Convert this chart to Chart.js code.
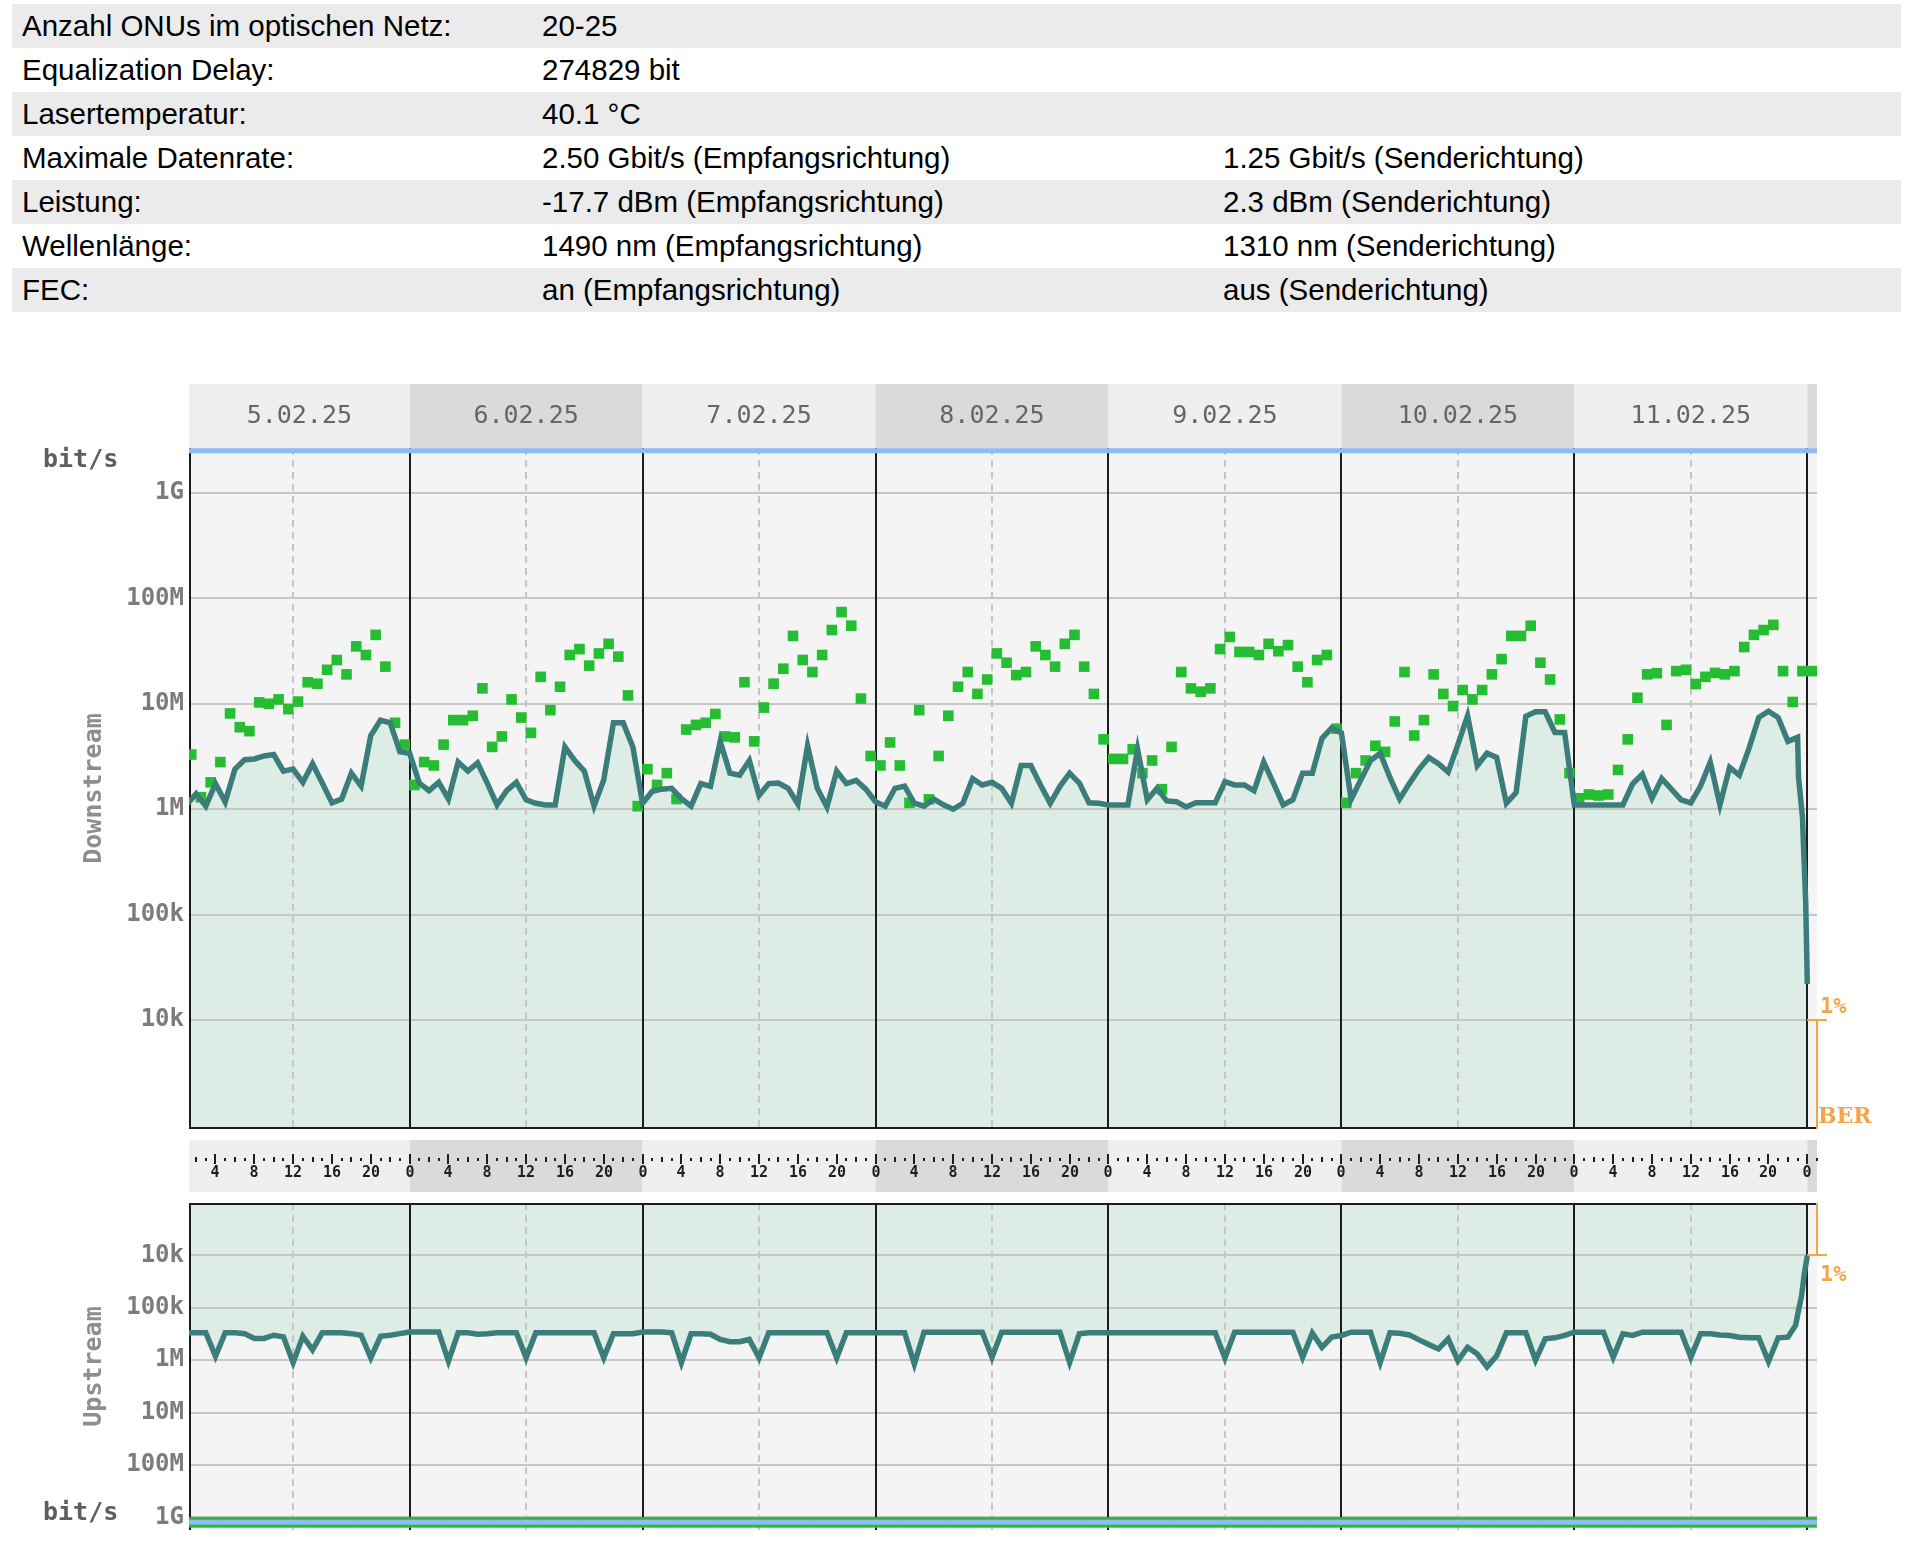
<!DOCTYPE html>
<html>
<head>
<meta charset="utf-8">
<title>ONU Statistik</title>
<script src="https://cdn.jsdelivr.net/npm/chart.js@4.4.1/dist/chart.umd.min.js"></script>
<style>
  html, body { margin: 0; padding: 0; background: #fff; }
  body { width: 1910px; height: 1556px; position: relative; overflow: hidden; }
  .row { position: absolute; left: 12px; width: 1889px; height: 44px; line-height: 44px;
         font-family: "Liberation Sans", Arial, Helvetica, sans-serif; font-size: 29.5px; color: #000; }
  .row.grey { background: #ebebeb; }
  .row span { position: absolute; top: 0; white-space: nowrap; }
  .c1 { left: 10px; } .c2 { left: 530px; } .c3 { left: 1211px; }
  canvas { position: absolute; left: 0; }
  #down { top: 370px; }
  #up { top: 1193px; }
</style>
</head>
<body>
<div id="info"></div>
<canvas id="down" width="1910" height="830"></canvas>
<canvas id="up" width="1910" height="363"></canvas>
<script>
// info table
const infoRows = [
  ['Anzahl ONUs im optischen Netz:', '20-25', ''],
  ['Equalization Delay:', '274829 bit', ''],
  ['Lasertemperatur:', '40.1 °C', ''],
  ['Maximale Datenrate:', '2.50 Gbit/s (Empfangsrichtung)', '1.25 Gbit/s (Senderichtung)'],
  ['Leistung:', '-17.7 dBm (Empfangsrichtung)', '2.3 dBm (Senderichtung)'],
  ['Wellenlänge:', '1490 nm (Empfangsrichtung)', '1310 nm (Senderichtung)'],
  ['FEC:', 'an (Empfangsrichtung)', 'aus (Senderichtung)']
];

// time axis: hours since 5.02.25 00:00
const hoursMin = 1.27;
const hoursMax = 169.0;
const dayLabels = ['5.02.25', '6.02.25', '7.02.25', '8.02.25', '9.02.25', '10.02.25', '11.02.25'];
const hourLabels = ['0', '4', '8', '12', '16', '20'];

const rateTicks = [1e4, 1e5, 1e6, 1e7, 1e8, 1e9];
const rateTickLabels = ['10k', '100k', '1M', '10M', '100M', '1G'];

const maxRateDown = 2.5e9;
const maxRateUp = 1.25e9;
const berMark = 1e4;

// downstream rate (Mbit/s), one value per hour, day arrays start at hour 1
const downDay1 = [1.1, 1.4, 1.07, 1.75, 1.17, 2.4, 2.95, 3.0, 3.2, 3.3, 2.3, 2.4, 1.8, 2.7, 1.77, 1.15, 1.25, 2.2, 1.66, 5.0, 7.0, 6.6, 3.5, 3.4];
const downDay2 = [1.77, 1.5, 1.8, 1.25, 2.8, 2.3, 2.75, 1.77, 1.1, 1.5, 1.8, 1.23, 1.14, 1.1, 1.1, 3.9, 2.9, 2.3, 1.07, 1.9, 6.6, 6.6, 3.9, 1.14];
const downDay3 = [1.48, 1.55, 1.58, 1.26, 1.07, 1.75, 1.65, 4.4, 2.2, 2.1, 2.9, 1.35, 1.75, 1.77, 1.58, 1.12, 4.0, 1.58, 1.05, 2.3, 1.75, 1.88, 1.55, 1.18];
const downDay4 = [1.07, 1.58, 1.66, 1.14, 1.07, 1.25, 1.1, 1.0, 1.14, 1.95, 1.7, 1.8, 1.58, 1.14, 2.6, 2.6, 1.7, 1.14, 1.65, 2.2, 1.77, 1.15, 1.14, 1.1];
const downDay5 = [1.1, 1.1, 3.7, 1.23, 1.58, 1.2, 1.18, 1.05, 1.15, 1.15, 1.15, 1.83, 1.7, 1.7, 1.5, 2.8, 1.77, 1.1, 1.23, 2.2, 2.2, 4.7, 5.9, 5.3];
const downDay6 = [1.24, 1.9, 2.9, 3.4, 2.0, 1.25, 1.75, 2.4, 3.1, 2.7, 2.25, 4.1, 7.7, 2.6, 3.4, 3.1, 1.14, 1.44, 7.6, 8.4, 8.4, 5.35, 5.35, 1.1];
const downDay7 = [1.1, 1.1, 1.1, 1.1, 1.1, 1.74, 2.15, 1.27, 1.95, 1.55, 1.23, 1.15, 1.66, 2.8, 1.1, 2.5, 2.1, 3.8, 7.4, 8.5, 7.4, 4.4, 4.8];
const downTailHours = [167.1, 167.5, 167.66, 167.83, 167.92, 168.0];
const downTail = [2.0, 0.85, 0.34, 0.136, 0.055, 0.022];

// downstream peak squares (Mbit/s), day arrays start at hour 0
const peakDay1 = [null, 3.3, 1.3, 1.8, 2.8, 8.1, 6.0, 5.5, 10.3, 10, 11, 8.9, 10.5, 16, 15.5, 21, 26, 19, 35, 29, 45, 22.5, 6.6, 4.1];
const peakDay2 = [1.7, 2.8, 2.6, 4.1, 7.0, 7.0, 7.7, 14, 3.9, 4.9, 11, 7.4, 5.3, 18, 8.7, 14.5, 29, 33, 23, 30, 37, 28, 12, 1.07];
const peakDay3 = [2.4, 1.7, 2.2, 1.25, 5.7, 6.3, 6.6, 8.0, 4.9, 4.8, 16, 4.4, 9.2, 15.5, 21.5, 44, 26, 20, 29, 50, 74, 55, 11.2, 3.2];
const peakDay4 = [2.6, 4.3, 2.6, 1.15, 8.7, 1.24, 3.2, 7.7, 14.5, 20, 12.4, 17, 30, 24.5, 18.7, 20, 35, 29, 22.5, 37, 45, 22.5, 12.4, 4.6];
const peakDay5 = [3.0, 3.0, 3.7, 2.2, 2.9, 1.55, 3.9, 20, 14, 13, 14, 33, 43, 31, 31, 29, 37, 31.5, 36, 22.5, 16, 26, 29, 5.8];
const peakDay6 = [1.15, 2.2, 2.9, 4.0, 3.5, 6.8, 20, 5.0, 7.0, 19, 12.4, 9.5, 13.5, 11, 13.5, 19, 26.5, 44, 44, 55, 24.5, 17, 7.1, 2.2];
const peakDay7 = [1.27, 1.38, 1.35, 1.38, 2.36, 4.6, 11.4, 19, 19.5, 6.3, 20.4, 21, 15.4, 18, 19.6, 19, 20.4, 34.5, 45, 50, 56, 20.4, 10.4, 20.4, 20.4];

// upstream rate (kbit/s), day arrays start at hour 1
const upDay1 = [300, 300, 300, 845, 300, 300, 312, 385, 385, 335, 360, 1120, 350, 635, 300, 300, 300, 312, 335, 905, 350, 335, 312, 290];
const upDay2 = [290, 290, 290, 1045, 300, 300, 320, 312, 300, 300, 300, 905, 300, 300, 300, 300, 300, 300, 300, 905, 312, 312, 312, 290];
const upDay3 = [290, 290, 300, 1120, 312, 312, 320, 403, 445, 445, 403, 905, 300, 300, 300, 300, 300, 300, 300, 905, 300, 300, 300, 300];
const upDay4 = [300, 300, 300, 1194, 292, 292, 292, 292, 292, 292, 292, 887, 292, 292, 292, 292, 292, 292, 292, 1110, 314, 300, 300, 300];
const upDay5 = [300, 300, 300, 300, 300, 300, 300, 300, 300, 300, 300, 914, 292, 292, 292, 292, 292, 292, 292, 887, 305, 569, 364, 338];
const upDay6 = [292, 292, 292, 1110, 300, 307, 330, 410, 505, 612, 393, 1030, 569, 766, 1346, 824, 300, 300, 300, 1000, 393, 375, 338, 292];
const upDay7 = [292, 292, 292, 887, 314, 338, 292, 292, 292, 292, 292, 887, 314, 314, 330, 338, 364, 375, 375, 1062, 375, 364];
const upTailHours = [166.8, 167.1, 167.4, 167.7, 168.0];
const upTail = [216, 111, 61, 22, 10.3];

// upstream peak squares (Gbit/s), day arrays start at hour 0
const upPeakDay1 = [null, 1.25, 1.25, 1.25, 1.25, 1.25, 1.25, 1.25, 1.25, 1.25, 1.25, 1.25, 1.25, 1.25, 1.25, 1.25, 1.25, 1.25, 1.25, 1.25, 1.25, 1.25, 1.25, 1.25];
const upPeakDay2 = [1.25, 1.25, 1.25, 1.25, 1.25, 1.25, 1.25, 1.25, 1.25, 1.25, 1.25, 1.25, 1.25, 1.25, 1.25, 1.25, 1.25, 1.25, 1.25, 1.25, 1.25, 1.25, 1.25, 1.25];
const upPeakDay3 = [1.25, 1.25, 1.25, 1.25, 1.25, 1.25, 1.25, 1.25, 1.25, 1.25, 1.25, 1.25, 1.25, 1.25, 1.25, 1.25, 1.25, 1.25, 1.25, 1.25, 1.25, 1.25, 1.25, 1.25];
const upPeakDay4 = [1.25, 1.25, 1.25, 1.25, 1.25, 1.25, 1.25, 1.25, 1.25, 1.25, 1.25, 1.25, 1.25, 1.25, 1.25, 1.25, 1.25, 1.25, 1.25, 1.25, 1.25, 1.25, 1.25, 1.25];
const upPeakDay5 = [1.25, 1.25, 1.25, 1.25, 1.25, 1.25, 1.25, 1.25, 1.25, 1.25, 1.25, 1.25, 1.25, 1.25, 1.25, 1.25, 1.25, 1.25, 1.25, 1.25, 1.25, 1.25, 1.25, 1.25];
const upPeakDay6 = [1.25, 1.25, 1.25, 1.25, 1.25, 1.25, 1.25, 1.25, 1.25, 1.25, 1.25, 1.25, 1.25, 1.25, 1.25, 1.25, 1.25, 1.25, 1.25, 1.25, 1.25, 1.25, 1.25, 1.25];
const upPeakDay7 = [1.25, 1.25, 1.25, 1.25, 1.25, 1.25, 1.25, 1.25, 1.25, 1.25, 1.25, 1.25, 1.25, 1.25, 1.25, 1.25, 1.25, 1.25, 1.25, 1.25, 1.25, 1.25, 1.25, 1.25, 1.25];

const MONO = '"DejaVu Sans Mono", "Liberation Mono", monospace';
const BG_LIGHT = '#efefef';
const BG_DARK = '#dadada';
const FILL = '#ddece5';
const TEAL = '#3b7d7a';
const GREEN = '#25bd32';
const BLUE = '#8dbdf2';
const ORANGE = '#f4a548';

// build the info rows
const info = document.getElementById('info');
infoRows.forEach((cells, r) => {
  const row = document.createElement('div');
  row.className = 'row' + (r % 2 === 0 ? ' grey' : '');
  row.style.top = (4 + r * 44) + 'px';
  cells.forEach((txt, c) => {
    const s = document.createElement('span');
    s.className = 'c' + (c + 1);
    s.textContent = txt;
    row.appendChild(s);
  });
  info.appendChild(row);
});

function linePoints(days, unit, tailHours, tailValues) {
  const pts = [];
  days.forEach((vals, d) => vals.forEach((v, k) => pts.push({ x: d * 24 + k + 1, y: v * unit })));
  tailHours.forEach((h, i) => pts.push({ x: h, y: tailValues[i] * unit }));
  return pts;
}

function squarePoints(days, unit) {
  const pts = [];
  days.forEach((vals, d) => vals.forEach((v, k) => {
    if (v !== null) pts.push({ x: d * 24 + k + 0.5, y: v * unit });
  }));
  return pts;
}

const downPoints = linePoints([downDay1, downDay2, downDay3, downDay4, downDay5, downDay6, downDay7], 1e6, downTailHours, downTail);
const peakPoints = squarePoints([peakDay1, peakDay2, peakDay3, peakDay4, peakDay5, peakDay6, peakDay7], 1e6);
const upPoints = linePoints([upDay1, upDay2, upDay3, upDay4, upDay5, upDay6, upDay7], 1e3, upTailHours, upTail);
const upPeakPoints = squarePoints([upPeakDay1, upPeakDay2, upPeakDay3, upPeakDay4, upPeakDay5, upPeakDay6, upPeakDay7], 1e9);

function dayCells(fn) {
  for (let d = 0; d * 24 < hoursMax; d++) {
    const h0 = Math.max(hoursMin, d * 24);
    const h1 = Math.min(hoursMax, (d + 1) * 24);
    if (h1 > h0) fn(d, h0, h1);
  }
}

function drawGrid(chart, edge) {
  const { ctx, chartArea: a, scales: { x, y } } = chart;
  ctx.save();
  ctx.beginPath();
  ctx.rect(a.left, a.top, a.right - a.left, a.bottom - a.top);
  ctx.clip();
  ctx.lineWidth = 2;
  ctx.strokeStyle = '#c6c6c6';
  rateTicks.forEach(v => {
    const py = Math.round(y.getPixelForValue(v));
    ctx.beginPath(); ctx.moveTo(a.left, py); ctx.lineTo(a.right, py); ctx.stroke();
  });
  ctx.setLineDash([7, 5]);
  for (let h = 12; h < hoursMax; h += 24) {
    const px = Math.round(x.getPixelForValue(h));
    ctx.beginPath(); ctx.moveTo(px, a.top); ctx.lineTo(px, a.bottom); ctx.stroke();
  }
  ctx.setLineDash([]);
  ctx.strokeStyle = '#1c1c1c';
  for (let h = 24; h <= hoursMax; h += 24) {
    const px = Math.round(x.getPixelForValue(h));
    ctx.beginPath(); ctx.moveTo(px, a.top); ctx.lineTo(px, a.bottom); ctx.stroke();
  }
  ctx.beginPath(); ctx.moveTo(a.left + 1, a.top); ctx.lineTo(a.left + 1, a.bottom); ctx.stroke();
  const ey = edge === 'bottom' ? a.bottom - 1 : a.top + 1;
  ctx.beginPath(); ctx.moveTo(a.left, ey); ctx.lineTo(a.right, ey); ctx.stroke();
  ctx.restore();
}

function drawAxisTitles(chart, title) {
  const { ctx, chartArea: a } = chart;
  ctx.save();
  ctx.font = 'bold 25px ' + MONO;
  ctx.fillStyle = '#8e8e8e';
  ctx.textAlign = 'center';
  ctx.textBaseline = 'middle';
  ctx.translate(94, (a.top + a.bottom) / 2);
  ctx.rotate(-Math.PI / 2);
  ctx.fillText(title, 0, 0);
  ctx.restore();
}

function drawBer(chart, down) {
  const { ctx, chartArea: a, scales: { y } } = chart;
  const py = Math.round(y.getPixelForValue(berMark));
  ctx.save();
  ctx.strokeStyle = ORANGE;
  ctx.fillStyle = ORANGE;
  ctx.lineWidth = 2;
  ctx.beginPath();
  ctx.moveTo(a.right, down ? py : a.top);
  ctx.lineTo(a.right, down ? a.bottom : py);
  ctx.moveTo(a.right - 10, py);
  ctx.lineTo(a.right + 10, py);
  ctx.stroke();
  ctx.font = 'bold 22px ' + MONO;
  ctx.textAlign = 'left';
  ctx.textBaseline = 'middle';
  ctx.fillText('1%', a.right + 3, down ? py - 13 : py + 20);
  if (down) {
    ctx.font = 'bold 22px "DejaVu Serif", serif';
    ctx.fillText('BER', a.right + 1, a.bottom - 12);
  }
  ctx.restore();
}

const areaBackground = {
  id: 'areaBackground',
  beforeDraw(chart) {
    const { ctx, chartArea: a } = chart;
    ctx.save();
    ctx.fillStyle = '#f4f4f4';
    ctx.fillRect(a.left, a.top, a.right - a.left, a.bottom - a.top);
    ctx.restore();
  }
};

const downDecor = {
  id: 'downDecor',
  beforeDraw(chart) {
    const { ctx, chartArea: a, scales: { x } } = chart;
    ctx.save();
    // date header
    const hTop = a.top - 64;
    dayCells((d, h0, h1) => {
      const x0 = x.getPixelForValue(h0), x1 = x.getPixelForValue(h1);
      ctx.fillStyle = d % 2 ? BG_DARK : BG_LIGHT;
      ctx.fillRect(x0, hTop, x1 - x0, 64);
      if (dayLabels[d]) {
        ctx.fillStyle = '#666666';
        ctx.font = '25px ' + MONO;
        ctx.textAlign = 'center';
        ctx.textBaseline = 'middle';
        ctx.fillText(dayLabels[d], (x0 + x1) / 2, hTop + 32);
      }
    });
    // hour bar
    const bTop = a.bottom + 11;
    dayCells((d, h0, h1) => {
      const x0 = x.getPixelForValue(h0), x1 = x.getPixelForValue(h1);
      ctx.fillStyle = d % 2 ? BG_DARK : BG_LIGHT;
      ctx.fillRect(x0, bTop, x1 - x0, 52);
    });
    ctx.fillStyle = '#1e1e1e';
    ctx.font = 'bold 15px ' + MONO;
    ctx.textAlign = 'center';
    ctx.textBaseline = 'middle';
    for (let h = Math.ceil(hoursMin); h <= hoursMax; h++) {
      const px = Math.round(x.getPixelForValue(h));
      if (h % 4 === 0) {
        ctx.fillRect(px - 1, bTop + 14, 2, 10);
        ctx.fillText(hourLabels[(h % 24) / 4], px, bTop + 33);
      } else if (h % 2 === 0) {
        ctx.fillRect(px - 1, bTop + 17, 2, 5);
      } else {
        ctx.fillRect(px - 1, bTop + 18, 2, 3);
      }
    }
    ctx.restore();
  },
  afterDatasetDraw(chart, args) {
    if (args.index === 0) drawGrid(chart, 'bottom');
  },
  afterDraw(chart) {
    const { ctx, chartArea: a } = chart;
    ctx.save();
    ctx.font = 'bold 25px ' + MONO;
    ctx.fillStyle = '#5e5e5e';
    ctx.textBaseline = 'middle';
    ctx.fillText('bit/s', 43, a.top + 12);
    ctx.restore();
    drawAxisTitles(chart, 'Downstream');
    drawBer(chart, true);
  }
};

const upDecor = {
  id: 'upDecor',
  afterDatasetDraw(chart, args) {
    if (args.index === 0) drawGrid(chart, 'top');
  },
  afterDraw(chart) {
    const { ctx, chartArea: a } = chart;
    ctx.save();
    ctx.font = 'bold 25px ' + MONO;
    ctx.fillStyle = '#5e5e5e';
    ctx.textBaseline = 'middle';
    ctx.fillText('bit/s', 43, a.bottom - 17);
    ctx.restore();
    drawAxisTitles(chart, 'Upstream');
    drawBer(chart, false);
  }
};

function rateAxis(min, max, reverse) {
  return {
    type: 'logarithmic',
    min: min,
    max: max,
    reverse: reverse,
    afterBuildTicks: s => { s.ticks = rateTicks.map(v => ({ value: v })); },
    afterFit: s => { s.width = 189; s.paddingTop = 0; s.paddingBottom = 0; },
    grid: { display: false, drawTicks: false },
    border: { display: false },
    ticks: {
      autoSkip: false,
      padding: 5,
      color: '#7c7c7c',
      font: { family: MONO, size: 24, weight: 'bold' },
      callback: v => {
        const i = rateTicks.indexOf(v);
        return i < 0 ? '' : rateTickLabels[i];
      }
    }
  };
}

const baseOptions = {
  responsive: false,
  animation: false,
  devicePixelRatio: 1,
  events: [],
  plugins: { legend: { display: false }, tooltip: { enabled: false } },
  elements: { line: { tension: 0 } }
};

new Chart(document.getElementById('down'), {
  type: 'line',
  data: {
    datasets: [
      { data: downPoints, fill: 'start', backgroundColor: FILL, borderColor: 'rgba(0,0,0,0)', borderWidth: 0, pointRadius: 0, order: 3 },
      { data: peakPoints, showLine: false, pointStyle: 'rect', pointRadius: 7.5, pointBorderWidth: 0, pointBackgroundColor: GREEN, borderColor: GREEN, order: 2 },
      { data: downPoints, fill: false, borderColor: TEAL, borderWidth: 5.5, pointRadius: 0, borderJoinStyle: 'miter', order: 1 },
      { data: [{ x: hoursMin, y: maxRateDown }, { x: hoursMax, y: maxRateDown }], fill: false, borderColor: BLUE, borderWidth: 5, pointRadius: 0, order: 0 }
    ]
  },
  options: Object.assign({}, baseOptions, {
    layout: { padding: { left: 0, top: 78, right: 93, bottom: 71 } },
    scales: {
      x: { type: 'linear', min: hoursMin, max: hoursMax, display: false },
      y: rateAxis(930, 2.66e9, false)
    }
  }),
  plugins: [areaBackground, downDecor]
});

new Chart(document.getElementById('up'), {
  type: 'line',
  data: {
    datasets: [
      { data: upPoints, fill: 'end', backgroundColor: FILL, borderColor: 'rgba(0,0,0,0)', borderWidth: 0, pointRadius: 0, order: 3 },
      { data: upPeakPoints, showLine: false, pointStyle: 'rect', pointRadius: 7.5, pointBorderWidth: 0, pointBackgroundColor: GREEN, borderColor: GREEN, order: 2 },
      { data: upPoints, fill: false, borderColor: TEAL, borderWidth: 5.5, pointRadius: 0, borderJoinStyle: 'miter', order: 1 },
      { data: [{ x: hoursMin, y: maxRateUp }, { x: hoursMax, y: maxRateUp }], fill: false, borderColor: BLUE, borderWidth: 5, pointRadius: 0, order: 0 }
    ]
  },
  options: Object.assign({}, baseOptions, {
    layout: { padding: { left: 0, top: 10, right: 93, bottom: 26 } },
    scales: {
      x: { type: 'linear', min: hoursMin, max: hoursMax, display: false },
      y: rateAxis(1e3, 1.75e9, true)
    }
  }),
  plugins: [areaBackground, upDecor]
});
</script>
</body>
</html>
